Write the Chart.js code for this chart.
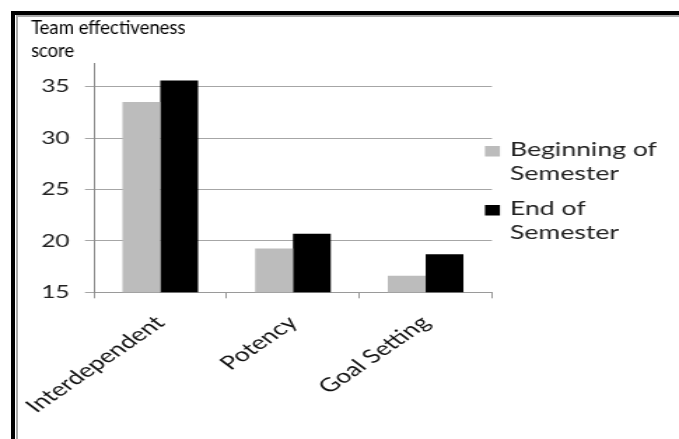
<!DOCTYPE html>
<html><head><meta charset="utf-8">
<script src="https://cdn.jsdelivr.net/npm/chart.js@4.4.1/dist/chart.umd.min.js"></script>
<style>
html,body{margin:0;padding:0;background:#fff;}
#wrap{position:relative;width:679px;height:439px;overflow:hidden;background:#fff;}
#c{position:absolute;left:0;top:0;transform-origin:0 0;}
.b{position:absolute;}
</style></head><body>
<div id="wrap">
<canvas id="c" width="485" height="439"></canvas>
<div class="b" style="left:11px;top:11px;width:4px;height:428px;background:#000"></div>
<div class="b" style="left:11px;top:11px;width:668px;height:4px;background:#000"></div>
<div class="b" style="left:16px;top:15px;width:2px;height:424px;background:#aaa"></div>
<div class="b" style="left:16px;top:15px;width:663px;height:2px;background:#aaa"></div>
</div>
<script>
const categories = ['Interdependent', 'Potency', 'Goal Setting'];
const beginningValues = [33.5, 19.25, 16.6];
const endValues = [35.6, 20.7, 18.7];
const seriesNames = [['Beginning of', 'Semester'], ['End of', 'Semester']];
const yTicks = [15, 20, 25, 30, 35];
const titleLines = ['Team effectiveness', 'score'];

const S = 1.4; // horizontal stretch of the reference picture
const canvas = document.getElementById('c');
canvas.style.transform = 'scaleX(' + S + ')';

const titlePlugin = {
  id: 'sideTitle',
  afterDraw(chart) {
    const ctx = chart.ctx;
    ctx.save();
    ctx.scale(1 / S, 1);
    ctx.font = '18.5px Lato';
    ctx.fillStyle = '#000';
    ctx.textBaseline = 'alphabetic';
    ctx.textAlign = 'left';
    ctx.fillText(titleLines[0], 31, 33.5);
    ctx.fillText(titleLines[1], 31, 57);
    ctx.restore();
  }
};

const legendPlugin = {
  id: 'sideLegend',
  afterDraw(chart) {
    const ctx = chart.ctx;
    ctx.save();
    ctx.font = '19px Lato';
    ctx.textBaseline = 'alphabetic';
    const tops = [146, 205];
    chart.data.datasets.forEach((ds, i) => {
      const t = tops[i];
      ctx.fillStyle = ds.backgroundColor;
      ctx.fillRect(346.4, t, 10.7, 10.5);
      ctx.fillStyle = '#222';
      const lines = seriesNames[i];
      ctx.fillText(lines[0], 364.3, t + 9.7);
      ctx.fillText(lines[1], 364.3, t + 34);
    });
    ctx.restore();
  }
};

new Chart(canvas, {
  type: 'bar',
  data: {
    labels: categories,
    datasets: [
      { label: seriesNames[0].join(' '), data: beginningValues, backgroundColor: '#bcbcbc', borderWidth: 0 },
      { label: seriesNames[1].join(' '), data: endValues, backgroundColor: '#000000', borderWidth: 0 }
    ]
  },
  options: {
    responsive: false,
    animation: false,
    devicePixelRatio: 1,
    layout: { padding: { top: 63, right: 485 - 351.4, left: 0, bottom: 0 } },
    datasets: { bar: { barPercentage: 1, categoryPercentage: 0.57 } },
    plugins: { legend: { display: false }, title: { display: false }, tooltip: { enabled: false } },
    scales: {
      x: {
        offset: true,
        grid: { display: true, drawOnChartArea: false, drawTicks: true, tickLength: 6, color: '#9a9a9a', offset: true },
        border: { display: true, color: '#9a9a9a' },
        ticks: { minRotation: 44, maxRotation: 44, autoSkip: false, labelOffset: 0, padding: 13,
                 font: { family: 'Lato', size: 19 }, color: '#111' },
        afterFit: (s) => { s.height = 439 - 292.3; s.paddingLeft = 0; s.paddingRight = 0; }
      },
      y: {
        min: 15, max: 37.3,
        afterBuildTicks: (a) => { a.ticks = yTicks.map(v => ({ value: v })); },
        grid: { color: '#a6a6a6', tickLength: 6.4, drawTicks: true },
        border: { display: true, color: '#8c8c8c' },
        ticks: { padding: 11, font: { family: 'Lato', size: 17.5 }, color: '#222' },
        afterFit: (s) => { s.width = 67.1; s.paddingTop = 0; s.paddingBottom = 0; }
      }
    }
  },
  plugins: [titlePlugin, legendPlugin]
});
</script>
</body></html>
